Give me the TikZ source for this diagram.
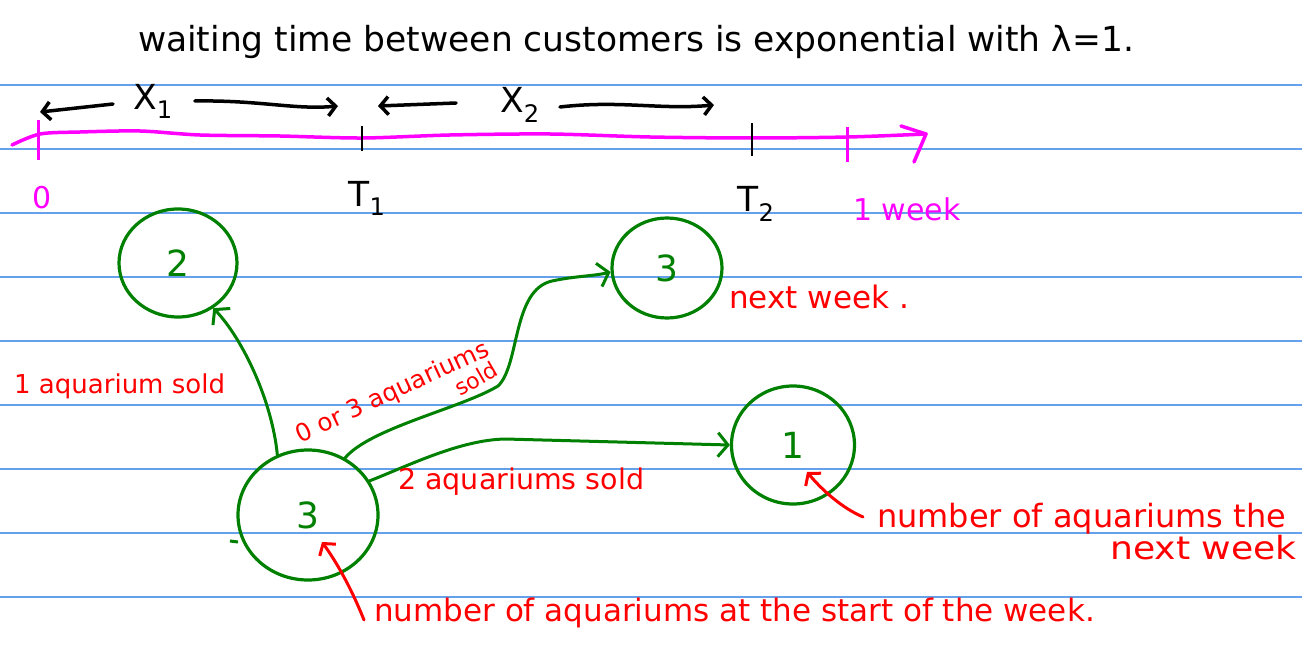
\documentclass[tikz,border=0pt]{standalone}
\usepackage{fontspec}
\setmainfont{DejaVu Sans}
\usetikzlibrary{arrows.meta,shapes.geometric}
\definecolor{ruleblue}{RGB}{100,160,235}
\definecolor{pen}{RGB}{0,128,0}
\definecolor{ink}{RGB}{255,0,0}
\definecolor{pinkink}{RGB}{255,0,255}
\begin{document}
\begin{tikzpicture}[x=1pt,y=-1pt,
  state/.style={ellipse,draw=pen,line width=3.2pt,text=pen,font=\fontsize{36}{40}\selectfont,inner sep=0pt},
  gedge/.style={draw=pen,line width=3pt,line cap=round,-{Straight Barb[length=10pt,width=24pt]}},
  redarrow/.style={draw=ink,line width=3pt,line cap=round,-{Straight Barb[length=8pt,width=20pt]}},
  blkarrow/.style={draw=black,line width=3.5pt,line cap=round,-{Straight Barb[length=8pt,width=18pt]}},
  note/.style={text=ink,font=\fontsize{31}{36}\selectfont,inner sep=0pt},
  pnote/.style={text=pinkink,font=\fontsize{30}{34}\selectfont,inner sep=0pt},
  bnote/.style={text=black,font=\fontsize{34.5}{40}\selectfont,inner sep=0pt},
  axisline/.style={draw=pinkink,line width=3.5pt,line cap=round,line join=round},
  ruling/.style={draw=ruleblue,line width=1.5pt}
]
\useasboundingbox[fill=white] (0,0) rectangle (1302,650);
% ruled lines
\foreach \yy in {85,149,213,277,341,405,469,533,597}
  \draw[ruling] (0,\yy) -- (1302,\yy);

% title
\node[bnote] (title) at (636,42) {waiting time between customers is exponential with λ=1.};

% time axis
\draw[axisline]
  plot[smooth] coordinates {(12,145) (40,134) (80,132) (140,131) (200,135) (280,136) (362,138) (450,135) (550,134) (650,137) (752,138) (848,137) (926,134)};
\draw[axisline] (901,126) -- (926,134) -- (914,162);
\draw[draw=pinkink, line width=3pt] (38,120) -- (38,160);
\draw[draw=pinkink, line width=3pt] (847,127) -- (847,162);
\draw[draw=black, line width=2.5pt] (362,126) -- (362,151);
\draw[draw=black, line width=2.5pt] (752,123) -- (752,156);
\node[pnote] (zero) at (42,198) {0};
\node[bnote] (t1) at (367,198) {T\textsubscript{1}};
\node[bnote] (t2) at (756,204) {T\textsubscript{2}};
\node[pnote] (week) at (907,209) {1 week};

% X labels and arrows
\node[bnote] (x1) at (153,101) {X\textsubscript{1}};
\node[bnote] (x2) at (520,105) {X\textsubscript{2}};
\coordinate (x1l) at (40,112);
\coordinate (x1r) at (338,106);
\coordinate (x2l) at (378,106);
\coordinate (x2r) at (714,105);
\draw[blkarrow] ([xshift=-20pt,yshift=-3pt]x1.west) -- (x1l);
\draw[blkarrow] ([xshift=22pt,yshift=0pt]x1.east) .. controls (260,100) and (295,110) .. (x1r);
\draw[blkarrow] ([xshift=-44pt,yshift=2pt]x2.west) -- (x2l);
\draw[blkarrow] ([xshift=20pt,yshift=-2pt]x2.east) .. controls (620,100) and (660,110) .. (x2r);

% states
\node[state,minimum width=118pt,minimum height=108pt] (c2) at (178,263) {2};
\node[state,minimum width=110pt,minimum height=100pt] (c3a) at (667,268) {3};
\node[state,minimum width=123pt,minimum height=118pt] (c1) at (793,445) {1};
\node[state,minimum width=140pt,minimum height=130pt] (c3) at (308,515) {3};
\draw[draw=pen,line width=3pt] (230,541) -- (238,542);

% transitions
\draw[gedge] (c3.117) .. controls (272,400) and (242,338) .. (c2.-52);
\draw[gedge] (c3.57) .. controls (370,428) and (462,408) .. (498,386)
  .. controls (520,365) and (512,290) .. (552,281) .. controls (575,276) and (595,276) .. (c3a.184);
\draw[gedge] (c3.29) .. controls (410,465) and (460,440) .. (505,439) -- (c1.180);

% labels
\node[note,anchor=west,font=\fontsize{26}{30}\selectfont] (l1) at (14,386) {1 aquarium sold};
\node[note,rotate=25,font=\fontsize{24.5}{28}\selectfont] (l03) at (393,393) {0 or 3 aquariums};
\node[note,rotate=30,font=\fontsize{22}{26}\selectfont,anchor=north east] (lsold) at ([xshift=-2pt]l03.south east) {sold};
\node[note,anchor=west,font=\fontsize{28.5}{32}\selectfont] (l2) at (398,482) {2 aquariums sold};
\node[note,anchor=west] (nw) at (729,297) {next week .};

% annotations
\node[note,anchor=west] (bt) at (374,613) {number of aquariums at the start of the week.};
\node[note,anchor=west,font=\fontsize{32}{36}\selectfont] (rt) at (877,519) {number of aquariums the};
\node[note,anchor=west,font=\fontsize{32}{36}\selectfont,xscale=1.13] (rt2) at (1110,548) {next week};
\coordinate (tipa) at (322,542);
\coordinate (tipb) at (807,472);
\draw[redarrow] ([xshift=-10pt,yshift=-7pt]bt.west) .. controls (350,585) and (335,560) .. (tipa);
\draw[redarrow] ([xshift=-14pt,yshift=2pt]rt.west) .. controls (842,508) and (822,490) .. (tipb);
\end{tikzpicture}
\end{document}
